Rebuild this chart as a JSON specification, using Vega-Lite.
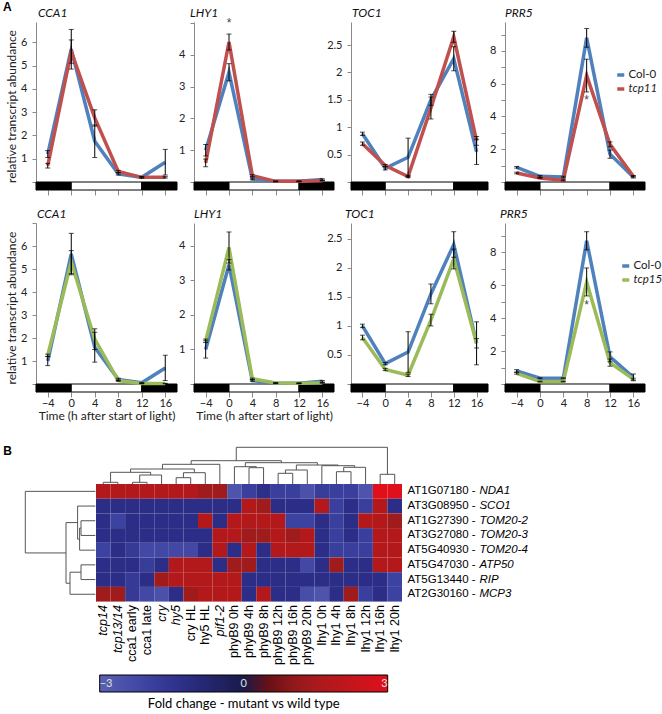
{
"$schema": "https://vega.github.io/schema/vega-lite/v6.json",
"padding": {"left": 2, "top": 0, "right": 0, "bottom": 0},
"background": "white",
"datasets": {
"lines": [
{"r":"A","g":"CCA1","gt":"Col-0","t":-4,"v":1.2,"e":0.15},{"r":"A","g":"CCA1","gt":"Col-0","t":0,"v":5.7,"e":0.85},{"r":"A","g":"CCA1","gt":"Col-0","t":4,"v":1.75,"e":0.7},{"r":"A","g":"CCA1","gt":"Col-0","t":8,"v":0.35,"e":0.05},{"r":"A","g":"CCA1","gt":"Col-0","t":12,"v":0.2,"e":0.03},{"r":"A","g":"CCA1","gt":"Col-0","t":16,"v":0.85,"e":0.55},
{"r":"A","g":"CCA1","gt":"tcp11","t":-4,"v":0.7,"e":0.1},{"r":"A","g":"CCA1","gt":"tcp11","t":0,"v":5.6,"e":0.5},{"r":"A","g":"CCA1","gt":"tcp11","t":4,"v":2.75,"e":0.35},{"r":"A","g":"CCA1","gt":"tcp11","t":8,"v":0.45,"e":0.05},{"r":"A","g":"CCA1","gt":"tcp11","t":12,"v":0.2,"e":0.03},{"r":"A","g":"CCA1","gt":"tcp11","t":16,"v":0.2,"e":0.03},
{"r":"A","g":"LHY1","gt":"Col-0","t":-4,"v":1.0,"e":0.18},{"r":"A","g":"LHY1","gt":"Col-0","t":0,"v":3.45,"e":0.27},{"r":"A","g":"LHY1","gt":"Col-0","t":4,"v":0.1,"e":0.03},{"r":"A","g":"LHY1","gt":"Col-0","t":8,"v":0.02,"e":0.01},{"r":"A","g":"LHY1","gt":"Col-0","t":12,"v":0.02,"e":0.01},{"r":"A","g":"LHY1","gt":"Col-0","t":16,"v":0.08,"e":0.02},
{"r":"A","g":"LHY1","gt":"tcp11","t":-4,"v":0.6,"e":0.12},{"r":"A","g":"LHY1","gt":"tcp11","t":0,"v":4.4,"e":0.25},{"r":"A","g":"LHY1","gt":"tcp11","t":4,"v":0.2,"e":0.03},{"r":"A","g":"LHY1","gt":"tcp11","t":8,"v":0.02,"e":0.01},{"r":"A","g":"LHY1","gt":"tcp11","t":12,"v":0.02,"e":0.01},{"r":"A","g":"LHY1","gt":"tcp11","t":16,"v":0.04,"e":0.01},
{"r":"A","g":"TOC1","gt":"Col-0","t":-4,"v":0.88,"e":0.03},{"r":"A","g":"TOC1","gt":"Col-0","t":0,"v":0.25,"e":0.03},{"r":"A","g":"TOC1","gt":"Col-0","t":4,"v":0.45,"e":0.35},{"r":"A","g":"TOC1","gt":"Col-0","t":8,"v":1.5,"e":0.1},{"r":"A","g":"TOC1","gt":"Col-0","t":12,"v":2.25,"e":0.22},{"r":"A","g":"TOC1","gt":"Col-0","t":16,"v":0.55,"e":0.23},
{"r":"A","g":"TOC1","gt":"tcp11","t":-4,"v":0.7,"e":0.03},{"r":"A","g":"TOC1","gt":"tcp11","t":0,"v":0.3,"e":0.02},{"r":"A","g":"TOC1","gt":"tcp11","t":4,"v":0.1,"e":0.02},{"r":"A","g":"TOC1","gt":"tcp11","t":8,"v":1.35,"e":0.2},{"r":"A","g":"TOC1","gt":"tcp11","t":12,"v":2.65,"e":0.1},{"r":"A","g":"TOC1","gt":"tcp11","t":16,"v":0.75,"e":0.08},
{"r":"A","g":"PRR5","gt":"Col-0","t":-4,"v":0.9,"e":0.05},{"r":"A","g":"PRR5","gt":"Col-0","t":0,"v":0.35,"e":0.05},{"r":"A","g":"PRR5","gt":"Col-0","t":4,"v":0.3,"e":0.05},{"r":"A","g":"PRR5","gt":"Col-0","t":8,"v":8.8,"e":0.57},{"r":"A","g":"PRR5","gt":"Col-0","t":12,"v":1.7,"e":0.25},{"r":"A","g":"PRR5","gt":"Col-0","t":16,"v":0.3,"e":0.05},
{"r":"A","g":"PRR5","gt":"tcp11","t":-4,"v":0.55,"e":0.05},{"r":"A","g":"PRR5","gt":"tcp11","t":0,"v":0.25,"e":0.03},{"r":"A","g":"PRR5","gt":"tcp11","t":4,"v":0.1,"e":0.03},{"r":"A","g":"PRR5","gt":"tcp11","t":8,"v":6.5,"e":1.0},{"r":"A","g":"PRR5","gt":"tcp11","t":12,"v":2.3,"e":0.15},{"r":"A","g":"PRR5","gt":"tcp11","t":16,"v":0.35,"e":0.05},
{"r":"B","g":"CCA1","gt":"Col-0","t":-4,"v":1.0,"e":0.2},{"r":"B","g":"CCA1","gt":"Col-0","t":0,"v":5.65,"e":0.9},{"r":"B","g":"CCA1","gt":"Col-0","t":4,"v":1.6,"e":0.65},{"r":"B","g":"CCA1","gt":"Col-0","t":8,"v":0.2,"e":0.05},{"r":"B","g":"CCA1","gt":"Col-0","t":12,"v":0.05,"e":0.02},{"r":"B","g":"CCA1","gt":"Col-0","t":16,"v":0.7,"e":0.55},
{"r":"B","g":"CCA1","gt":"tcp15","t":-4,"v":1.25,"e":0.05},{"r":"B","g":"CCA1","gt":"tcp15","t":0,"v":5.3,"e":0.5},{"r":"B","g":"CCA1","gt":"tcp15","t":4,"v":1.95,"e":0.45},{"r":"B","g":"CCA1","gt":"tcp15","t":8,"v":0.15,"e":0.03},{"r":"B","g":"CCA1","gt":"tcp15","t":12,"v":0.02,"e":0.01},{"r":"B","g":"CCA1","gt":"tcp15","t":16,"v":0.02,"e":0.01},
{"r":"B","g":"LHY1","gt":"Col-0","t":-4,"v":1.0,"e":0.25},{"r":"B","g":"LHY1","gt":"Col-0","t":0,"v":3.45,"e":0.15},{"r":"B","g":"LHY1","gt":"Col-0","t":4,"v":0.1,"e":0.02},{"r":"B","g":"LHY1","gt":"Col-0","t":8,"v":0.02,"e":0.01},{"r":"B","g":"LHY1","gt":"Col-0","t":12,"v":0.02,"e":0.01},{"r":"B","g":"LHY1","gt":"Col-0","t":16,"v":0.08,"e":0.02},
{"r":"B","g":"LHY1","gt":"tcp15","t":-4,"v":1.25,"e":0.05},{"r":"B","g":"LHY1","gt":"tcp15","t":0,"v":3.95,"e":0.45},{"r":"B","g":"LHY1","gt":"tcp15","t":4,"v":0.15,"e":0.02},{"r":"B","g":"LHY1","gt":"tcp15","t":8,"v":0.03,"e":0.01},{"r":"B","g":"LHY1","gt":"tcp15","t":12,"v":0.02,"e":0.01},{"r":"B","g":"LHY1","gt":"tcp15","t":16,"v":0.03,"e":0.01},
{"r":"B","g":"TOC1","gt":"Col-0","t":-4,"v":1.0,"e":0.03},{"r":"B","g":"TOC1","gt":"Col-0","t":0,"v":0.35,"e":0.02},{"r":"B","g":"TOC1","gt":"Col-0","t":4,"v":0.55,"e":0.35},{"r":"B","g":"TOC1","gt":"Col-0","t":8,"v":1.55,"e":0.17},{"r":"B","g":"TOC1","gt":"Col-0","t":12,"v":2.4,"e":0.22},{"r":"B","g":"TOC1","gt":"Col-0","t":16,"v":0.7,"e":0.37},
{"r":"B","g":"TOC1","gt":"tcp15","t":-4,"v":0.8,"e":0.04},{"r":"B","g":"TOC1","gt":"tcp15","t":0,"v":0.25,"e":0.02},{"r":"B","g":"TOC1","gt":"tcp15","t":4,"v":0.15,"e":0.02},{"r":"B","g":"TOC1","gt":"tcp15","t":8,"v":1.1,"e":0.1},{"r":"B","g":"TOC1","gt":"tcp15","t":12,"v":2.15,"e":0.17},{"r":"B","g":"TOC1","gt":"tcp15","t":16,"v":0.7,"e":0.08},
{"r":"B","g":"PRR5","gt":"Col-0","t":-4,"v":0.8,"e":0.07},{"r":"B","g":"PRR5","gt":"Col-0","t":0,"v":0.35,"e":0.03},{"r":"B","g":"PRR5","gt":"Col-0","t":4,"v":0.35,"e":0.03},{"r":"B","g":"PRR5","gt":"Col-0","t":8,"v":8.7,"e":0.55},{"r":"B","g":"PRR5","gt":"Col-0","t":12,"v":1.65,"e":0.3},{"r":"B","g":"PRR5","gt":"Col-0","t":16,"v":0.4,"e":0.2},
{"r":"B","g":"PRR5","gt":"tcp15","t":-4,"v":0.65,"e":0.05},{"r":"B","g":"PRR5","gt":"tcp15","t":0,"v":0.15,"e":0.02},{"r":"B","g":"PRR5","gt":"tcp15","t":4,"v":0.15,"e":0.02},{"r":"B","g":"PRR5","gt":"tcp15","t":8,"v":6.2,"e":0.85},{"r":"B","g":"PRR5","gt":"tcp15","t":12,"v":1.3,"e":0.22},{"r":"B","g":"PRR5","gt":"tcp15","t":16,"v":0.3,"e":0.05}
],
"stars": [{"r":"A","g":"LHY1","t":0,"v":5.0},{"r":"A","g":"PRR5","t":8,"v":5.0},{"r":"B","g":"PRR5","t":8,"v":4.8}],
"strip": [{"t":-6,"t2":0,"p":"dark"},{"t":0,"t2":12,"p":"light"},{"t":12,"t2":18,"p":"dark"}],
"genes": [{"g":"AT1G07180 -","gn":"NDA1"},{"g":"AT3G08950 -","gn":"SCO1"},{"g":"AT1G27390 -","gn":"TOM20-2"},{"g":"AT3G27080 -","gn":"TOM20-3"},{"g":"AT5G40930 -","gn":"TOM20-4"},{"g":"AT5G47030 -","gn":"ATP50"},{"g":"AT5G13440 -","gn":"RIP"},{"g":"AT2G30160 -","gn":"MCP3"}],
"hm": [
{"g":"AT1G07180 -","s":"tcp14","v":1.8},{"g":"AT1G07180 -","s":"tcp13/14","v":1.8},{"g":"AT1G07180 -","s":"cca1 early","v":1.8},{"g":"AT1G07180 -","s":"cca1 late","v":1.8},{"g":"AT1G07180 -","s":"cry","v":1.8},{"g":"AT1G07180 -","s":"hy5","v":1.8},{"g":"AT1G07180 -","s":"cry HL","v":1.8},{"g":"AT1G07180 -","s":"hy5 HL","v":1.2},{"g":"AT1G07180 -","s":"pif1-2","v":1.2},{"g":"AT1G07180 -","s":"phyB9 0h","v":-2.6},{"g":"AT1G07180 -","s":"phyB9 4h","v":-1.9},{"g":"AT1G07180 -","s":"phyB9 8h","v":-1.3},{"g":"AT1G07180 -","s":"phyB9 12h","v":-1.9},{"g":"AT1G07180 -","s":"phyB9 16h","v":-1.9},{"g":"AT1G07180 -","s":"phyB9 20h","v":-2.5},{"g":"AT1G07180 -","s":"lhy1 0h","v":-1.8},{"g":"AT1G07180 -","s":"lhy1 4h","v":-1.9},{"g":"AT1G07180 -","s":"lhy1 8h","v":-1.9},{"g":"AT1G07180 -","s":"lhy1 12h","v":-2.6},{"g":"AT1G07180 -","s":"lhy1 16h","v":3},{"g":"AT1G07180 -","s":"lhy1 20h","v":3},
{"g":"AT3G08950 -","s":"tcp14","v":-1.2},{"g":"AT3G08950 -","s":"tcp13/14","v":-1.2},{"g":"AT3G08950 -","s":"cca1 early","v":-1.2},{"g":"AT3G08950 -","s":"cca1 late","v":-1.2},{"g":"AT3G08950 -","s":"cry","v":-1.2},{"g":"AT3G08950 -","s":"hy5","v":-1.2},{"g":"AT3G08950 -","s":"cry HL","v":-1.2},{"g":"AT3G08950 -","s":"hy5 HL","v":-1.2},{"g":"AT3G08950 -","s":"pif1-2","v":-1.2},{"g":"AT3G08950 -","s":"phyB9 0h","v":-1.2},{"g":"AT3G08950 -","s":"phyB9 4h","v":1.8},{"g":"AT3G08950 -","s":"phyB9 8h","v":1.2},{"g":"AT3G08950 -","s":"phyB9 12h","v":-1.2},{"g":"AT3G08950 -","s":"phyB9 16h","v":-1.2},{"g":"AT3G08950 -","s":"phyB9 20h","v":-1.2},{"g":"AT3G08950 -","s":"lhy1 0h","v":1.8},{"g":"AT3G08950 -","s":"lhy1 4h","v":-1.9},{"g":"AT3G08950 -","s":"lhy1 8h","v":-1.2},{"g":"AT3G08950 -","s":"lhy1 12h","v":-1.9},{"g":"AT3G08950 -","s":"lhy1 16h","v":1.8},{"g":"AT3G08950 -","s":"lhy1 20h","v":-1.2},
{"g":"AT1G27390 -","s":"tcp14","v":-1.2},{"g":"AT1G27390 -","s":"tcp13/14","v":-2.0},{"g":"AT1G27390 -","s":"cca1 early","v":-1.2},{"g":"AT1G27390 -","s":"cca1 late","v":-1.2},{"g":"AT1G27390 -","s":"cry","v":-1.2},{"g":"AT1G27390 -","s":"hy5","v":-1.2},{"g":"AT1G27390 -","s":"cry HL","v":-1.2},{"g":"AT1G27390 -","s":"hy5 HL","v":1.8},{"g":"AT1G27390 -","s":"pif1-2","v":-1.2},{"g":"AT1G27390 -","s":"phyB9 0h","v":1.8},{"g":"AT1G27390 -","s":"phyB9 4h","v":1.8},{"g":"AT1G27390 -","s":"phyB9 8h","v":1.8},{"g":"AT1G27390 -","s":"phyB9 12h","v":1.8},{"g":"AT1G27390 -","s":"phyB9 16h","v":-2.0},{"g":"AT1G27390 -","s":"phyB9 20h","v":-2.0},{"g":"AT1G27390 -","s":"lhy1 0h","v":-1.2},{"g":"AT1G27390 -","s":"lhy1 4h","v":-1.9},{"g":"AT1G27390 -","s":"lhy1 8h","v":-1.2},{"g":"AT1G27390 -","s":"lhy1 12h","v":1.8},{"g":"AT1G27390 -","s":"lhy1 16h","v":1.8},{"g":"AT1G27390 -","s":"lhy1 20h","v":1.2},
{"g":"AT3G27080 -","s":"tcp14","v":-1.2},{"g":"AT3G27080 -","s":"tcp13/14","v":-1.2},{"g":"AT3G27080 -","s":"cca1 early","v":-1.2},{"g":"AT3G27080 -","s":"cca1 late","v":-1.2},{"g":"AT3G27080 -","s":"cry","v":-1.2},{"g":"AT3G27080 -","s":"hy5","v":-1.2},{"g":"AT3G27080 -","s":"cry HL","v":-1.2},{"g":"AT3G27080 -","s":"hy5 HL","v":-1.2},{"g":"AT3G27080 -","s":"pif1-2","v":1.8},{"g":"AT3G27080 -","s":"phyB9 0h","v":1.8},{"g":"AT3G27080 -","s":"phyB9 4h","v":1.2},{"g":"AT3G27080 -","s":"phyB9 8h","v":1.2},{"g":"AT3G27080 -","s":"phyB9 12h","v":1.8},{"g":"AT3G27080 -","s":"phyB9 16h","v":1.2},{"g":"AT3G27080 -","s":"phyB9 20h","v":1.8},{"g":"AT3G27080 -","s":"lhy1 0h","v":-1.2},{"g":"AT3G27080 -","s":"lhy1 4h","v":-1.9},{"g":"AT3G27080 -","s":"lhy1 8h","v":-1.2},{"g":"AT3G27080 -","s":"lhy1 12h","v":-1.9},{"g":"AT3G27080 -","s":"lhy1 16h","v":1.8},{"g":"AT3G27080 -","s":"lhy1 20h","v":1.8},
{"g":"AT5G40930 -","s":"tcp14","v":-2.0},{"g":"AT5G40930 -","s":"tcp13/14","v":-1.2},{"g":"AT5G40930 -","s":"cca1 early","v":-1.7},{"g":"AT5G40930 -","s":"cca1 late","v":-2.2},{"g":"AT5G40930 -","s":"cry","v":-2.2},{"g":"AT5G40930 -","s":"hy5","v":-2.2},{"g":"AT5G40930 -","s":"cry HL","v":-2.2},{"g":"AT5G40930 -","s":"hy5 HL","v":-1.2},{"g":"AT5G40930 -","s":"pif1-2","v":1.8},{"g":"AT5G40930 -","s":"phyB9 0h","v":-1.2},{"g":"AT5G40930 -","s":"phyB9 4h","v":1.8},{"g":"AT5G40930 -","s":"phyB9 8h","v":-1.2},{"g":"AT5G40930 -","s":"phyB9 12h","v":1.8},{"g":"AT5G40930 -","s":"phyB9 16h","v":1.8},{"g":"AT5G40930 -","s":"phyB9 20h","v":1.8},{"g":"AT5G40930 -","s":"lhy1 0h","v":-1.2},{"g":"AT5G40930 -","s":"lhy1 4h","v":-1.9},{"g":"AT5G40930 -","s":"lhy1 8h","v":-1.9},{"g":"AT5G40930 -","s":"lhy1 12h","v":-1.9},{"g":"AT5G40930 -","s":"lhy1 16h","v":1.8},{"g":"AT5G40930 -","s":"lhy1 20h","v":1.8},
{"g":"AT5G47030 -","s":"tcp14","v":-1.2},{"g":"AT5G47030 -","s":"tcp13/14","v":-1.2},{"g":"AT5G47030 -","s":"cca1 early","v":-1.2},{"g":"AT5G47030 -","s":"cca1 late","v":-1.8},{"g":"AT5G47030 -","s":"cry","v":-1.2},{"g":"AT5G47030 -","s":"hy5","v":1.8},{"g":"AT5G47030 -","s":"cry HL","v":1.8},{"g":"AT5G47030 -","s":"hy5 HL","v":1.8},{"g":"AT5G47030 -","s":"pif1-2","v":-1.2},{"g":"AT5G47030 -","s":"phyB9 0h","v":1.2},{"g":"AT5G47030 -","s":"phyB9 4h","v":1.2},{"g":"AT5G47030 -","s":"phyB9 8h","v":-1.2},{"g":"AT5G47030 -","s":"phyB9 12h","v":-1.2},{"g":"AT5G47030 -","s":"phyB9 16h","v":-1.2},{"g":"AT5G47030 -","s":"phyB9 20h","v":-2.2},{"g":"AT5G47030 -","s":"lhy1 0h","v":-1.2},{"g":"AT5G47030 -","s":"lhy1 4h","v":1.2},{"g":"AT5G47030 -","s":"lhy1 8h","v":-1.2},{"g":"AT5G47030 -","s":"lhy1 12h","v":-1.2},{"g":"AT5G47030 -","s":"lhy1 16h","v":1.8},{"g":"AT5G47030 -","s":"lhy1 20h","v":1.8},
{"g":"AT5G13440 -","s":"tcp14","v":-1.2},{"g":"AT5G13440 -","s":"tcp13/14","v":-1.2},{"g":"AT5G13440 -","s":"cca1 early","v":-1.7},{"g":"AT5G13440 -","s":"cca1 late","v":-1.2},{"g":"AT5G13440 -","s":"cry","v":1.2},{"g":"AT5G13440 -","s":"hy5","v":1.8},{"g":"AT5G13440 -","s":"cry HL","v":1.8},{"g":"AT5G13440 -","s":"hy5 HL","v":1.8},{"g":"AT5G13440 -","s":"pif1-2","v":1.8},{"g":"AT5G13440 -","s":"phyB9 0h","v":1.8},{"g":"AT5G13440 -","s":"phyB9 4h","v":-1.2},{"g":"AT5G13440 -","s":"phyB9 8h","v":-1.2},{"g":"AT5G13440 -","s":"phyB9 12h","v":-1.2},{"g":"AT5G13440 -","s":"phyB9 16h","v":-1.2},{"g":"AT5G13440 -","s":"phyB9 20h","v":-1.2},{"g":"AT5G13440 -","s":"lhy1 0h","v":-1.2},{"g":"AT5G13440 -","s":"lhy1 4h","v":-1.2},{"g":"AT5G13440 -","s":"lhy1 8h","v":-1.2},{"g":"AT5G13440 -","s":"lhy1 12h","v":-1.2},{"g":"AT5G13440 -","s":"lhy1 16h","v":-1.2},{"g":"AT5G13440 -","s":"lhy1 20h","v":-2.0},
{"g":"AT2G30160 -","s":"tcp14","v":1.2},{"g":"AT2G30160 -","s":"tcp13/14","v":1.2},{"g":"AT2G30160 -","s":"cca1 early","v":-1.7},{"g":"AT2G30160 -","s":"cca1 late","v":-2.2},{"g":"AT2G30160 -","s":"cry","v":-2.5},{"g":"AT2G30160 -","s":"hy5","v":-1.2},{"g":"AT2G30160 -","s":"cry HL","v":1.2},{"g":"AT2G30160 -","s":"hy5 HL","v":1.8},{"g":"AT2G30160 -","s":"pif1-2","v":1.8},{"g":"AT2G30160 -","s":"phyB9 0h","v":1.8},{"g":"AT2G30160 -","s":"phyB9 4h","v":-1.2},{"g":"AT2G30160 -","s":"phyB9 8h","v":1.8},{"g":"AT2G30160 -","s":"phyB9 12h","v":-1.2},{"g":"AT2G30160 -","s":"phyB9 16h","v":-1.2},{"g":"AT2G30160 -","s":"phyB9 20h","v":-2.4},{"g":"AT2G30160 -","s":"lhy1 0h","v":-2.6},{"g":"AT2G30160 -","s":"lhy1 4h","v":-1.2},{"g":"AT2G30160 -","s":"lhy1 8h","v":1.2},{"g":"AT2G30160 -","s":"lhy1 12h","v":-1.9},{"g":"AT2G30160 -","s":"lhy1 16h","v":-1.2},{"g":"AT2G30160 -","s":"lhy1 20h","v":-2.0}
],
"td": [
{"xl":0.5,"xr":1.5,"hl":0,"hr":0,"h":1.7},{"xl":2.5,"xr":3.5,"hl":0,"hr":0,"h":1.7},{"xl":3.0,"xr":4.5,"hl":1.7,"hr":0,"h":9},{"xl":1.0,"xr":3.75,"hl":1.7,"hr":9,"h":11.7},
{"xl":5.5,"xr":6.5,"hl":0,"hr":0,"h":6.3},{"xl":6.0,"xr":7.5,"hl":6.3,"hr":0,"h":11.3},{"xl":2.375,"xr":6.75,"hl":11.7,"hr":11.3,"h":15},{"xl":4.5625,"xr":8.5,"hl":15,"hr":0,"h":19.7},
{"xl":10.5,"xr":11.5,"hl":0,"hr":0,"h":16.3},{"xl":9.5,"xr":11.0,"hl":0,"hr":16.3,"h":17.3},{"xl":12.5,"xr":13.5,"hl":0,"hr":0,"h":10.7},{"xl":13.0,"xr":14.5,"hl":10.7,"hr":0,"h":14},
{"xl":16.5,"xr":17.5,"hl":0,"hr":0,"h":12.3},{"xl":17.0,"xr":18.5,"hl":12.3,"hr":0,"h":16.7},{"xl":15.5,"xr":17.75,"hl":0,"hr":16.7,"h":18.3},{"xl":13.75,"xr":16.625,"hl":14,"hr":18.3,"h":19},
{"xl":10.25,"xr":15.19,"hl":17.3,"hr":19,"h":21.3},{"xl":6.53,"xr":12.72,"hl":19.7,"hr":21.3,"h":23.3},{"xl":19.5,"xr":20.5,"hl":0,"hr":0,"h":9.7},{"xl":9.625,"xr":20.0,"hl":23.3,"hr":9.7,"h":36.7}
],
"ld": [
{"a":2.5,"b":3.5,"da":0,"db":0,"d":14.3},{"a":3.0,"b":4.5,"da":14.3,"db":0,"d":15.7},{"a":1.5,"b":3.75,"da":0,"db":15.7,"d":17.7},
{"a":5.5,"b":6.5,"da":0,"db":0,"d":14.3},{"a":6.0,"b":7.5,"da":14.3,"db":0,"d":25.3},{"a":2.625,"b":6.75,"da":17.7,"db":25.3,"d":29.3},{"a":0.5,"b":4.69,"da":0,"db":29.3,"d":70}
]
},
"spacing": 24,
"resolve": {"scale": {"stroke": "independent", "color": "independent", "fill": "independent"}, "legend": {"stroke": "independent", "color": "independent", "fill": "independent"}},
"vconcat": [
{
"columns": 4, "spacing": {"row": 33, "column": 17}, "bounds": "flush", "align": "each",
"resolve": {"scale": {"stroke": "independent", "color": "independent", "fill": "independent"}, "legend": {"stroke": "independent", "color": "independent", "fill": "independent"}},
"concat": [
{"width": 141, "height": 168,
 "layer": [
  {"data": {"name": "strip"}, "mark": {"type": "rect", "stroke": "black", "strokeWidth": 1}, "encoding": {
   "x": {"field": "t", "type": "quantitative", "title": null, "scale": {"domain": [-6, 18], "nice": false, "zero": false}, "axis": {"values": [-4,0,4,8,12,16], "labels": false, "domain": false, "tickSize": 5}}, "x2": {"field": "t2"},
   "y": {"datum": -0.3435, "type": "quantitative", "title": "relative transcript abundance", "scale": {"domain": [-0.3435, 6.87], "nice": false, "zero": false}, "axis": {"values": [0,1,2,3,4,5,6], "labelExpr": "datum.value == 0 ? '' : datum.label", "format": "~g"}}, "y2": {"datum": 0},
   "fill": {"field": "p", "type": "nominal", "scale": {"domain": ["dark", "light"], "range": ["black", "white"]}, "legend": null}}},
  {"data": {"name": "lines"}, "transform": [{"filter": "datum.r == 'A' && datum.g == 'CCA1'"}], "mark": {"type": "line", "strokeWidth": 3.5}, "encoding": {
   "x": {"field": "t", "type": "quantitative", "title": null, "scale": {"domain": [-6, 18], "nice": false, "zero": false}, "axis": {"values": [-4,0,4,8,12,16], "labels": false, "domain": false, "tickSize": 5}},
   "y": {"field": "v", "type": "quantitative", "title": "relative transcript abundance", "scale": {"domain": [-0.3435, 6.87], "nice": false, "zero": false}, "axis": {"values": [0,1,2,3,4,5,6], "labelExpr": "datum.value == 0 ? '' : datum.label", "format": "~g"}},
   "stroke": {"field": "gt", "type": "nominal", "scale": {"domain": ["Col-0", "tcp11"], "range": ["#4F81BD", "#C0504D"]}, "legend": null}}},
  {"data": {"name": "lines"}, "transform": [{"filter": "datum.r == 'A' && datum.g == 'CCA1'"}], "mark": {"type": "errorbar", "ticks": {"size": 5}, "color": "black", "thickness": 1}, "encoding": {
   "x": {"field": "t", "type": "quantitative", "title": null, "scale": {"domain": [-6, 18], "nice": false, "zero": false}, "axis": {"values": [-4,0,4,8,12,16], "labels": false, "domain": false, "tickSize": 5}},
   "y": {"field": "v", "type": "quantitative", "title": "relative transcript abundance", "scale": {"domain": [-0.3435, 6.87], "nice": false, "zero": false}, "axis": {"values": [0,1,2,3,4,5,6], "labelExpr": "datum.value == 0 ? '' : datum.label", "format": "~g"}},
   "yError": {"field": "e"}}},
  {"data": {"values": [{}]}, "mark": {"type": "text", "text": "CCA1", "font": "Lato", "fontSize": 12, "fontStyle": "italic", "color": "#111", "align": "left", "baseline": "alphabetic", "dx": 2, "dy": -5}, "encoding": {
   "x": {"datum": -6, "type": "quantitative", "title": null, "scale": {"domain": [-6, 18], "nice": false, "zero": false}, "axis": {"values": [-4,0,4,8,12,16], "labels": false, "domain": false, "tickSize": 5}},
   "y": {"datum": 6.87, "type": "quantitative", "title": "relative transcript abundance", "scale": {"domain": [-0.3435, 6.87], "nice": false, "zero": false}, "axis": {"values": [0,1,2,3,4,5,6], "labelExpr": "datum.value == 0 ? '' : datum.label", "format": "~g"}}}},
  {"data": {"values": [{}]}, "mark": {"type": "text", "text": "A", "font": "Liberation Sans", "fontWeight": "bold", "fontSize": 12, "color": "black", "align": "center", "baseline": "middle"}, "encoding": {
   "x": {"datum": -10.9, "type": "quantitative", "title": null, "scale": {"domain": [-6, 18], "nice": false, "zero": false}, "axis": {"values": [-4,0,4,8,12,16], "labels": false, "domain": false, "tickSize": 5}},
   "y": {"datum": 7.53, "type": "quantitative", "title": "relative transcript abundance", "scale": {"domain": [-0.3435, 6.87], "nice": false, "zero": false}, "axis": {"values": [0,1,2,3,4,5,6], "labelExpr": "datum.value == 0 ? '' : datum.label", "format": "~g"}}}}
 ]},
{"width": 140, "height": 168,
 "layer": [
  {"data": {"name": "strip"}, "mark": {"type": "rect", "stroke": "black", "strokeWidth": 1}, "encoding": {
   "x": {"field": "t", "type": "quantitative", "title": null, "scale": {"domain": [-6, 18], "nice": false, "zero": false}, "axis": {"values": [-4,0,4,8,12,16], "labels": false, "domain": false, "tickSize": 5}}, "x2": {"field": "t2"},
   "y": {"datum": -0.2515, "type": "quantitative", "title": null, "scale": {"domain": [-0.2515, 5.03], "nice": false, "zero": false}, "axis": {"values": [0,1,2,3,4,5], "labelExpr": "datum.value == 0 || datum.value == 5 ? '' : datum.label", "format": "~g"}}, "y2": {"datum": 0},
   "fill": {"field": "p", "type": "nominal", "scale": {"domain": ["dark", "light"], "range": ["black", "white"]}, "legend": null}}},
  {"data": {"name": "lines"}, "transform": [{"filter": "datum.r == 'A' && datum.g == 'LHY1'"}], "mark": {"type": "line", "strokeWidth": 3.5}, "encoding": {
   "x": {"field": "t", "type": "quantitative", "title": null, "scale": {"domain": [-6, 18], "nice": false, "zero": false}, "axis": {"values": [-4,0,4,8,12,16], "labels": false, "domain": false, "tickSize": 5}},
   "y": {"field": "v", "type": "quantitative", "title": null, "scale": {"domain": [-0.2515, 5.03], "nice": false, "zero": false}, "axis": {"values": [0,1,2,3,4,5], "labelExpr": "datum.value == 0 || datum.value == 5 ? '' : datum.label", "format": "~g"}},
   "stroke": {"field": "gt", "type": "nominal", "scale": {"domain": ["Col-0", "tcp11"], "range": ["#4F81BD", "#C0504D"]}, "legend": null}}},
  {"data": {"name": "lines"}, "transform": [{"filter": "datum.r == 'A' && datum.g == 'LHY1'"}], "mark": {"type": "errorbar", "ticks": {"size": 5}, "color": "black", "thickness": 1}, "encoding": {
   "x": {"field": "t", "type": "quantitative", "title": null, "scale": {"domain": [-6, 18], "nice": false, "zero": false}, "axis": {"values": [-4,0,4,8,12,16], "labels": false, "domain": false, "tickSize": 5}},
   "y": {"field": "v", "type": "quantitative", "title": null, "scale": {"domain": [-0.2515, 5.03], "nice": false, "zero": false}, "axis": {"values": [0,1,2,3,4,5], "labelExpr": "datum.value == 0 || datum.value == 5 ? '' : datum.label", "format": "~g"}},
   "yError": {"field": "e"}}},
  {"data": {"name": "stars"}, "transform": [{"filter": "datum.r == 'A' && datum.g == 'LHY1'"}], "mark": {"type": "text", "text": "*", "fontSize": 12, "color": "#444", "baseline": "middle"}, "encoding": {
   "x": {"field": "t", "type": "quantitative", "title": null, "scale": {"domain": [-6, 18], "nice": false, "zero": false}, "axis": {"values": [-4,0,4,8,12,16], "labels": false, "domain": false, "tickSize": 5}},
   "y": {"field": "v", "type": "quantitative", "title": null, "scale": {"domain": [-0.2515, 5.03], "nice": false, "zero": false}, "axis": {"values": [0,1,2,3,4,5], "labelExpr": "datum.value == 0 || datum.value == 5 ? '' : datum.label", "format": "~g"}}}},
  {"data": {"values": [{}]}, "mark": {"type": "text", "text": "LHY1", "font": "Lato", "fontSize": 12, "fontStyle": "italic", "color": "#111", "align": "left", "baseline": "alphabetic", "dx": -4, "dy": -5}, "encoding": {
   "x": {"datum": -6, "type": "quantitative", "title": null, "scale": {"domain": [-6, 18], "nice": false, "zero": false}, "axis": {"values": [-4,0,4,8,12,16], "labels": false, "domain": false, "tickSize": 5}},
   "y": {"datum": 5.03, "type": "quantitative", "title": null, "scale": {"domain": [-0.2515, 5.03], "nice": false, "zero": false}, "axis": {"values": [0,1,2,3,4,5], "labelExpr": "datum.value == 0 || datum.value == 5 ? '' : datum.label", "format": "~g"}}}}
 ]},
{"width": 137, "height": 168,
 "layer": [
  {"data": {"name": "strip"}, "mark": {"type": "rect", "stroke": "black", "strokeWidth": 1}, "encoding": {
   "x": {"field": "t", "type": "quantitative", "title": null, "scale": {"domain": [-6, 18], "nice": false, "zero": false}, "axis": {"values": [-4,0,4,8,12,16], "labels": false, "domain": false, "tickSize": 5}}, "x2": {"field": "t2"},
   "y": {"datum": -0.146, "type": "quantitative", "title": null, "scale": {"domain": [-0.146, 2.92], "nice": false, "zero": false}, "axis": {"values": [0,0.5,1,1.5,2,2.5], "labelExpr": "datum.value == 0 ? '' : datum.label", "format": "~g"}}, "y2": {"datum": 0},
   "fill": {"field": "p", "type": "nominal", "scale": {"domain": ["dark", "light"], "range": ["black", "white"]}, "legend": null}}},
  {"data": {"name": "lines"}, "transform": [{"filter": "datum.r == 'A' && datum.g == 'TOC1'"}], "mark": {"type": "line", "strokeWidth": 3.5}, "encoding": {
   "x": {"field": "t", "type": "quantitative", "title": null, "scale": {"domain": [-6, 18], "nice": false, "zero": false}, "axis": {"values": [-4,0,4,8,12,16], "labels": false, "domain": false, "tickSize": 5}},
   "y": {"field": "v", "type": "quantitative", "title": null, "scale": {"domain": [-0.146, 2.92], "nice": false, "zero": false}, "axis": {"values": [0,0.5,1,1.5,2,2.5], "labelExpr": "datum.value == 0 ? '' : datum.label", "format": "~g"}},
   "stroke": {"field": "gt", "type": "nominal", "scale": {"domain": ["Col-0", "tcp11"], "range": ["#4F81BD", "#C0504D"]}, "legend": null}}},
  {"data": {"name": "lines"}, "transform": [{"filter": "datum.r == 'A' && datum.g == 'TOC1'"}], "mark": {"type": "errorbar", "ticks": {"size": 5}, "color": "black", "thickness": 1}, "encoding": {
   "x": {"field": "t", "type": "quantitative", "title": null, "scale": {"domain": [-6, 18], "nice": false, "zero": false}, "axis": {"values": [-4,0,4,8,12,16], "labels": false, "domain": false, "tickSize": 5}},
   "y": {"field": "v", "type": "quantitative", "title": null, "scale": {"domain": [-0.146, 2.92], "nice": false, "zero": false}, "axis": {"values": [0,0.5,1,1.5,2,2.5], "labelExpr": "datum.value == 0 ? '' : datum.label", "format": "~g"}},
   "yError": {"field": "e"}}},
  {"data": {"values": [{}]}, "mark": {"type": "text", "text": "TOC1", "font": "Lato", "fontSize": 12, "fontStyle": "italic", "color": "#111", "align": "left", "baseline": "alphabetic", "dx": 1, "dy": -5}, "encoding": {
   "x": {"datum": -6, "type": "quantitative", "title": null, "scale": {"domain": [-6, 18], "nice": false, "zero": false}, "axis": {"values": [-4,0,4,8,12,16], "labels": false, "domain": false, "tickSize": 5}},
   "y": {"datum": 2.92, "type": "quantitative", "title": null, "scale": {"domain": [-0.146, 2.92], "nice": false, "zero": false}, "axis": {"values": [0,0.5,1,1.5,2,2.5], "labelExpr": "datum.value == 0 ? '' : datum.label", "format": "~g"}}}}
 ]},
{"width": 140, "height": 168,
 "layer": [
  {"data": {"name": "strip"}, "mark": {"type": "rect", "stroke": "black", "strokeWidth": 1}, "encoding": {
   "x": {"field": "t", "type": "quantitative", "title": null, "scale": {"domain": [-6, 18], "nice": false, "zero": false}, "axis": {"values": [-4,0,4,8,12,16], "labels": false, "domain": false, "tickSize": 5}}, "x2": {"field": "t2"},
   "y": {"datum": -0.4885, "type": "quantitative", "title": null, "scale": {"domain": [-0.4885, 9.77], "nice": false, "zero": false}, "axis": {"values": [0,1,2,3,4,5,6,7,8,9], "labelExpr": "datum.value > 0 && datum.value % 2 == 0 ? datum.label : ''", "format": "~g"}}, "y2": {"datum": 0},
   "fill": {"field": "p", "type": "nominal", "scale": {"domain": ["dark", "light"], "range": ["black", "white"]}, "legend": null}}},
  {"data": {"name": "lines"}, "transform": [{"filter": "datum.r == 'A' && datum.g == 'PRR5'"}], "mark": {"type": "line", "strokeWidth": 3.5}, "encoding": {
   "x": {"field": "t", "type": "quantitative", "title": null, "scale": {"domain": [-6, 18], "nice": false, "zero": false}, "axis": {"values": [-4,0,4,8,12,16], "labels": false, "domain": false, "tickSize": 5}},
   "y": {"field": "v", "type": "quantitative", "title": null, "scale": {"domain": [-0.4885, 9.77], "nice": false, "zero": false}, "axis": {"values": [0,1,2,3,4,5,6,7,8,9], "labelExpr": "datum.value > 0 && datum.value % 2 == 0 ? datum.label : ''", "format": "~g"}},
   "stroke": {"field": "gt", "type": "nominal", "scale": {"domain": ["Col-0", "tcp11"], "range": ["#4F81BD", "#C0504D"]},
    "legend": {"orient": "none", "legendX": 110, "legendY": 47, "title": null, "symbolType": "stroke", "symbolStrokeWidth": 3.5, "symbolSize": 49, "clipHeight": 12, "rowPadding": 2, "labelOffset": 2, "labelFont": "Lato", "labelFontSize": 11.5, "labelColor": "#222",
     "encode": {"labels": {"update": {"fontStyle": {"signal": "datum.value == 'Col-0' ? 'normal' : 'italic'"}}}}}}}},
  {"data": {"name": "lines"}, "transform": [{"filter": "datum.r == 'A' && datum.g == 'PRR5'"}], "mark": {"type": "errorbar", "ticks": {"size": 5}, "color": "black", "thickness": 1}, "encoding": {
   "x": {"field": "t", "type": "quantitative", "title": null, "scale": {"domain": [-6, 18], "nice": false, "zero": false}, "axis": {"values": [-4,0,4,8,12,16], "labels": false, "domain": false, "tickSize": 5}},
   "y": {"field": "v", "type": "quantitative", "title": null, "scale": {"domain": [-0.4885, 9.77], "nice": false, "zero": false}, "axis": {"values": [0,1,2,3,4,5,6,7,8,9], "labelExpr": "datum.value > 0 && datum.value % 2 == 0 ? datum.label : ''", "format": "~g"}},
   "yError": {"field": "e"}}},
  {"data": {"name": "stars"}, "transform": [{"filter": "datum.r == 'A' && datum.g == 'PRR5'"}], "mark": {"type": "text", "text": "*", "fontSize": 12, "color": "#444", "baseline": "middle"}, "encoding": {
   "x": {"field": "t", "type": "quantitative", "title": null, "scale": {"domain": [-6, 18], "nice": false, "zero": false}, "axis": {"values": [-4,0,4,8,12,16], "labels": false, "domain": false, "tickSize": 5}},
   "y": {"field": "v", "type": "quantitative", "title": null, "scale": {"domain": [-0.4885, 9.77], "nice": false, "zero": false}, "axis": {"values": [0,1,2,3,4,5,6,7,8,9], "labelExpr": "datum.value > 0 && datum.value % 2 == 0 ? datum.label : ''", "format": "~g"}}}},
  {"data": {"values": [{}]}, "mark": {"type": "text", "text": "PRR5", "font": "Lato", "fontSize": 12, "fontStyle": "italic", "color": "#111", "align": "left", "baseline": "alphabetic", "dx": 0, "dy": -5}, "encoding": {
   "x": {"datum": -6, "type": "quantitative", "title": null, "scale": {"domain": [-6, 18], "nice": false, "zero": false}, "axis": {"values": [-4,0,4,8,12,16], "labels": false, "domain": false, "tickSize": 5}},
   "y": {"datum": 9.77, "type": "quantitative", "title": null, "scale": {"domain": [-0.4885, 9.77], "nice": false, "zero": false}, "axis": {"values": [0,1,2,3,4,5,6,7,8,9], "labelExpr": "datum.value > 0 && datum.value % 2 == 0 ? datum.label : ''", "format": "~g"}}}}
 ]},
{"width": 141, "height": 169,
 "layer": [
  {"data": {"name": "strip"}, "mark": {"type": "rect", "stroke": "black", "strokeWidth": 1}, "encoding": {
   "x": {"field": "t", "type": "quantitative", "title": "Time (h after start of light)", "scale": {"domain": [-6, 18], "nice": false, "zero": false}, "axis": {"values": [-4,0,4,8,12,16], "domain": false, "tickSize": 5, "labelPadding": 0, "titlePadding": 2}}, "x2": {"field": "t2"},
   "y": {"datum": -0.3478, "type": "quantitative", "title": "relative transcript abundance", "scale": {"domain": [-0.3478, 7.0], "nice": false, "zero": false}, "axis": {"values": [0,1,2,3,4,5,6,7], "labelExpr": "datum.value == 0 || datum.value == 7 ? '' : datum.label", "format": "~g"}}, "y2": {"datum": 0},
   "fill": {"field": "p", "type": "nominal", "scale": {"domain": ["dark", "light"], "range": ["black", "white"]}, "legend": null}}},
  {"data": {"name": "lines"}, "transform": [{"filter": "datum.r == 'B' && datum.g == 'CCA1'"}], "mark": {"type": "line", "strokeWidth": 3.5}, "encoding": {
   "x": {"field": "t", "type": "quantitative", "title": "Time (h after start of light)", "scale": {"domain": [-6, 18], "nice": false, "zero": false}, "axis": {"values": [-4,0,4,8,12,16], "domain": false, "tickSize": 5, "labelPadding": 0, "titlePadding": 2}},
   "y": {"field": "v", "type": "quantitative", "title": "relative transcript abundance", "scale": {"domain": [-0.3478, 7.0], "nice": false, "zero": false}, "axis": {"values": [0,1,2,3,4,5,6,7], "labelExpr": "datum.value == 0 || datum.value == 7 ? '' : datum.label", "format": "~g"}},
   "stroke": {"field": "gt", "type": "nominal", "scale": {"domain": ["Col-0", "tcp15"], "range": ["#4F81BD", "#9BBB59"]}, "legend": null}}},
  {"data": {"name": "lines"}, "transform": [{"filter": "datum.r == 'B' && datum.g == 'CCA1'"}], "mark": {"type": "errorbar", "ticks": {"size": 5}, "color": "black", "thickness": 1}, "encoding": {
   "x": {"field": "t", "type": "quantitative", "title": "Time (h after start of light)", "scale": {"domain": [-6, 18], "nice": false, "zero": false}, "axis": {"values": [-4,0,4,8,12,16], "domain": false, "tickSize": 5, "labelPadding": 0, "titlePadding": 2}},
   "y": {"field": "v", "type": "quantitative", "title": "relative transcript abundance", "scale": {"domain": [-0.3478, 7.0], "nice": false, "zero": false}, "axis": {"values": [0,1,2,3,4,5,6,7], "labelExpr": "datum.value == 0 || datum.value == 7 ? '' : datum.label", "format": "~g"}},
   "yError": {"field": "e"}}},
  {"data": {"values": [{}]}, "mark": {"type": "text", "text": "CCA1", "font": "Lato", "fontSize": 12, "fontStyle": "italic", "color": "#111", "align": "left", "baseline": "alphabetic", "dx": 1, "dy": -5}, "encoding": {
   "x": {"datum": -6, "type": "quantitative", "title": "Time (h after start of light)", "scale": {"domain": [-6, 18], "nice": false, "zero": false}, "axis": {"values": [-4,0,4,8,12,16], "domain": false, "tickSize": 5, "labelPadding": 0, "titlePadding": 2}},
   "y": {"datum": 7.0, "type": "quantitative", "title": "relative transcript abundance", "scale": {"domain": [-0.3478, 7.0], "nice": false, "zero": false}, "axis": {"values": [0,1,2,3,4,5,6,7], "labelExpr": "datum.value == 0 || datum.value == 7 ? '' : datum.label", "format": "~g"}}}}
 ]},
{"width": 140, "height": 169,
 "layer": [
  {"data": {"name": "strip"}, "mark": {"type": "rect", "stroke": "black", "strokeWidth": 1}, "encoding": {
   "x": {"field": "t", "type": "quantitative", "title": "Time (h after start of light)", "scale": {"domain": [-6, 18], "nice": false, "zero": false}, "axis": {"values": [-4,0,4,8,12,16], "domain": false, "tickSize": 5, "labelPadding": 0, "titlePadding": 2}}, "x2": {"field": "t2"},
   "y": {"datum": -0.2316, "type": "quantitative", "title": null, "scale": {"domain": [-0.2316, 4.66], "nice": false, "zero": false}, "axis": {"values": [0,1,2,3,4], "labelExpr": "datum.value == 0 ? '' : datum.label", "format": "~g"}}, "y2": {"datum": 0},
   "fill": {"field": "p", "type": "nominal", "scale": {"domain": ["dark", "light"], "range": ["black", "white"]}, "legend": null}}},
  {"data": {"name": "lines"}, "transform": [{"filter": "datum.r == 'B' && datum.g == 'LHY1'"}], "mark": {"type": "line", "strokeWidth": 3.5}, "encoding": {
   "x": {"field": "t", "type": "quantitative", "title": "Time (h after start of light)", "scale": {"domain": [-6, 18], "nice": false, "zero": false}, "axis": {"values": [-4,0,4,8,12,16], "domain": false, "tickSize": 5, "labelPadding": 0, "titlePadding": 2}},
   "y": {"field": "v", "type": "quantitative", "title": null, "scale": {"domain": [-0.2316, 4.66], "nice": false, "zero": false}, "axis": {"values": [0,1,2,3,4], "labelExpr": "datum.value == 0 ? '' : datum.label", "format": "~g"}},
   "stroke": {"field": "gt", "type": "nominal", "scale": {"domain": ["Col-0", "tcp15"], "range": ["#4F81BD", "#9BBB59"]}, "legend": null}}},
  {"data": {"name": "lines"}, "transform": [{"filter": "datum.r == 'B' && datum.g == 'LHY1'"}], "mark": {"type": "errorbar", "ticks": {"size": 5}, "color": "black", "thickness": 1}, "encoding": {
   "x": {"field": "t", "type": "quantitative", "title": "Time (h after start of light)", "scale": {"domain": [-6, 18], "nice": false, "zero": false}, "axis": {"values": [-4,0,4,8,12,16], "domain": false, "tickSize": 5, "labelPadding": 0, "titlePadding": 2}},
   "y": {"field": "v", "type": "quantitative", "title": null, "scale": {"domain": [-0.2316, 4.66], "nice": false, "zero": false}, "axis": {"values": [0,1,2,3,4], "labelExpr": "datum.value == 0 ? '' : datum.label", "format": "~g"}},
   "yError": {"field": "e"}}},
  {"data": {"values": [{}]}, "mark": {"type": "text", "text": "LHY1", "font": "Lato", "fontSize": 12, "fontStyle": "italic", "color": "#111", "align": "left", "baseline": "alphabetic", "dx": 0, "dy": -5}, "encoding": {
   "x": {"datum": -6, "type": "quantitative", "title": "Time (h after start of light)", "scale": {"domain": [-6, 18], "nice": false, "zero": false}, "axis": {"values": [-4,0,4,8,12,16], "domain": false, "tickSize": 5, "labelPadding": 0, "titlePadding": 2}},
   "y": {"datum": 4.66, "type": "quantitative", "title": null, "scale": {"domain": [-0.2316, 4.66], "nice": false, "zero": false}, "axis": {"values": [0,1,2,3,4], "labelExpr": "datum.value == 0 ? '' : datum.label", "format": "~g"}}}}
 ]},
{"width": 137, "height": 169,
 "layer": [
  {"data": {"name": "strip"}, "mark": {"type": "rect", "stroke": "black", "strokeWidth": 1}, "encoding": {
   "x": {"field": "t", "type": "quantitative", "title": null, "scale": {"domain": [-6, 18], "nice": false, "zero": false}, "axis": {"values": [-4,0,4,8,12,16], "domain": false, "tickSize": 5, "labelPadding": 0}}, "x2": {"field": "t2"},
   "y": {"datum": -0.1376, "type": "quantitative", "title": null, "scale": {"domain": [-0.1376, 2.77], "nice": false, "zero": false}, "axis": {"values": [0,0.5,1,1.5,2,2.5], "labelExpr": "datum.value == 0 ? '' : datum.label", "format": "~g"}}, "y2": {"datum": 0},
   "fill": {"field": "p", "type": "nominal", "scale": {"domain": ["dark", "light"], "range": ["black", "white"]}, "legend": null}}},
  {"data": {"name": "lines"}, "transform": [{"filter": "datum.r == 'B' && datum.g == 'TOC1'"}], "mark": {"type": "line", "strokeWidth": 3.5}, "encoding": {
   "x": {"field": "t", "type": "quantitative", "title": null, "scale": {"domain": [-6, 18], "nice": false, "zero": false}, "axis": {"values": [-4,0,4,8,12,16], "domain": false, "tickSize": 5, "labelPadding": 0}},
   "y": {"field": "v", "type": "quantitative", "title": null, "scale": {"domain": [-0.1376, 2.77], "nice": false, "zero": false}, "axis": {"values": [0,0.5,1,1.5,2,2.5], "labelExpr": "datum.value == 0 ? '' : datum.label", "format": "~g"}},
   "stroke": {"field": "gt", "type": "nominal", "scale": {"domain": ["Col-0", "tcp15"], "range": ["#4F81BD", "#9BBB59"]}, "legend": null}}},
  {"data": {"name": "lines"}, "transform": [{"filter": "datum.r == 'B' && datum.g == 'TOC1'"}], "mark": {"type": "errorbar", "ticks": {"size": 5}, "color": "black", "thickness": 1}, "encoding": {
   "x": {"field": "t", "type": "quantitative", "title": null, "scale": {"domain": [-6, 18], "nice": false, "zero": false}, "axis": {"values": [-4,0,4,8,12,16], "domain": false, "tickSize": 5, "labelPadding": 0}},
   "y": {"field": "v", "type": "quantitative", "title": null, "scale": {"domain": [-0.1376, 2.77], "nice": false, "zero": false}, "axis": {"values": [0,0.5,1,1.5,2,2.5], "labelExpr": "datum.value == 0 ? '' : datum.label", "format": "~g"}},
   "yError": {"field": "e"}}},
  {"data": {"values": [{}]}, "mark": {"type": "text", "text": "TOC1", "font": "Lato", "fontSize": 12, "fontStyle": "italic", "color": "#111", "align": "left", "baseline": "alphabetic", "dx": -6, "dy": -5}, "encoding": {
   "x": {"datum": -6, "type": "quantitative", "title": null, "scale": {"domain": [-6, 18], "nice": false, "zero": false}, "axis": {"values": [-4,0,4,8,12,16], "domain": false, "tickSize": 5, "labelPadding": 0}},
   "y": {"datum": 2.77, "type": "quantitative", "title": null, "scale": {"domain": [-0.1376, 2.77], "nice": false, "zero": false}, "axis": {"values": [0,0.5,1,1.5,2,2.5], "labelExpr": "datum.value == 0 ? '' : datum.label", "format": "~g"}}}}
 ]},
{"width": 140, "height": 169,
 "layer": [
  {"data": {"name": "strip"}, "mark": {"type": "rect", "stroke": "black", "strokeWidth": 1}, "encoding": {
   "x": {"field": "t", "type": "quantitative", "title": null, "scale": {"domain": [-6, 18], "nice": false, "zero": false}, "axis": {"values": [-4,0,4,8,12,16], "domain": false, "tickSize": 5, "labelPadding": 0}}, "x2": {"field": "t2"},
   "y": {"datum": -0.486, "type": "quantitative", "title": null, "scale": {"domain": [-0.486, 9.78], "nice": false, "zero": false}, "axis": {"values": [0,1,2,3,4,5,6,7,8,9], "labelExpr": "datum.value > 0 && datum.value % 2 == 0 ? datum.label : ''", "format": "~g"}}, "y2": {"datum": 0},
   "fill": {"field": "p", "type": "nominal", "scale": {"domain": ["dark", "light"], "range": ["black", "white"]}, "legend": null}}},
  {"data": {"name": "lines"}, "transform": [{"filter": "datum.r == 'B' && datum.g == 'PRR5'"}], "mark": {"type": "line", "strokeWidth": 3.5}, "encoding": {
   "x": {"field": "t", "type": "quantitative", "title": null, "scale": {"domain": [-6, 18], "nice": false, "zero": false}, "axis": {"values": [-4,0,4,8,12,16], "domain": false, "tickSize": 5, "labelPadding": 0}},
   "y": {"field": "v", "type": "quantitative", "title": null, "scale": {"domain": [-0.486, 9.78], "nice": false, "zero": false}, "axis": {"values": [0,1,2,3,4,5,6,7,8,9], "labelExpr": "datum.value > 0 && datum.value % 2 == 0 ? datum.label : ''", "format": "~g"}},
   "stroke": {"field": "gt", "type": "nominal", "scale": {"domain": ["Col-0", "tcp15"], "range": ["#4F81BD", "#9BBB59"]},
    "legend": {"orient": "none", "legendX": 115, "legendY": 37, "title": null, "symbolType": "stroke", "symbolStrokeWidth": 3.5, "symbolSize": 49, "clipHeight": 12, "rowPadding": 2, "labelOffset": 2, "labelFont": "Lato", "labelFontSize": 11.5, "labelColor": "#222",
     "encode": {"labels": {"update": {"fontStyle": {"signal": "datum.value == 'Col-0' ? 'normal' : 'italic'"}}}}}}}},
  {"data": {"name": "lines"}, "transform": [{"filter": "datum.r == 'B' && datum.g == 'PRR5'"}], "mark": {"type": "errorbar", "ticks": {"size": 5}, "color": "black", "thickness": 1}, "encoding": {
   "x": {"field": "t", "type": "quantitative", "title": null, "scale": {"domain": [-6, 18], "nice": false, "zero": false}, "axis": {"values": [-4,0,4,8,12,16], "domain": false, "tickSize": 5, "labelPadding": 0}},
   "y": {"field": "v", "type": "quantitative", "title": null, "scale": {"domain": [-0.486, 9.78], "nice": false, "zero": false}, "axis": {"values": [0,1,2,3,4,5,6,7,8,9], "labelExpr": "datum.value > 0 && datum.value % 2 == 0 ? datum.label : ''", "format": "~g"}},
   "yError": {"field": "e"}}},
  {"data": {"name": "stars"}, "transform": [{"filter": "datum.r == 'B' && datum.g == 'PRR5'"}], "mark": {"type": "text", "text": "*", "fontSize": 12, "color": "#444", "baseline": "middle"}, "encoding": {
   "x": {"field": "t", "type": "quantitative", "title": null, "scale": {"domain": [-6, 18], "nice": false, "zero": false}, "axis": {"values": [-4,0,4,8,12,16], "domain": false, "tickSize": 5, "labelPadding": 0}},
   "y": {"field": "v", "type": "quantitative", "title": null, "scale": {"domain": [-0.486, 9.78], "nice": false, "zero": false}, "axis": {"values": [0,1,2,3,4,5,6,7,8,9], "labelExpr": "datum.value > 0 && datum.value % 2 == 0 ? datum.label : ''", "format": "~g"}}}},
  {"data": {"values": [{}]}, "mark": {"type": "text", "text": "PRR5", "font": "Lato", "fontSize": 12, "fontStyle": "italic", "color": "#111", "align": "left", "baseline": "alphabetic", "dx": -5, "dy": -5}, "encoding": {
   "x": {"datum": -6, "type": "quantitative", "title": null, "scale": {"domain": [-6, 18], "nice": false, "zero": false}, "axis": {"values": [-4,0,4,8,12,16], "domain": false, "tickSize": 5, "labelPadding": 0}},
   "y": {"datum": 9.78, "type": "quantitative", "title": null, "scale": {"domain": [-0.486, 9.78], "nice": false, "zero": false}, "axis": {"values": [0,1,2,3,4,5,6,7,8,9], "labelExpr": "datum.value > 0 && datum.value % 2 == 0 ? datum.label : ''", "format": "~g"}}}}
 ]}
]
},
{
"columns": 2, "spacing": 0, "bounds": "flush", "align": "each",
"resolve": {"scale": {"stroke": "independent", "color": "independent", "fill": "independent"}, "legend": {"stroke": "independent", "color": "independent", "fill": "independent"}},
"concat": [
 {"width": 59.3, "height": 37, "data": {"values": [{}]},
  "mark": {"type": "text", "text": "B", "font": "Liberation Sans", "fontWeight": "bold", "fontSize": 12, "color": "black", "align": "center", "baseline": "middle"},
  "encoding": {"x": {"datum": -28.5, "scale": {"domain": [0, 59.3], "nice": false, "zero": false}, "axis": null}, "y": {"datum": 33, "scale": {"domain": [0, 37], "nice": false, "zero": false}, "axis": null}}},
 {"width": 306, "height": 37,
  "layer": [
   {"data": {"name": "td"}, "mark": {"type": "rule", "color": "#555", "strokeWidth": 1},
    "encoding": {"x": {"field": "xl", "type": "quantitative", "scale": {"domain": [0, 21], "nice": false, "zero": false}, "axis": null},
     "y": {"field": "hl", "type": "quantitative", "scale": {"domain": [0, 37], "nice": false}, "axis": null}, "y2": {"field": "h"}}},
   {"data": {"name": "td"}, "mark": {"type": "rule", "color": "#555", "strokeWidth": 1},
    "encoding": {"x": {"field": "xr", "type": "quantitative"}, "y": {"field": "hr", "type": "quantitative"}, "y2": {"field": "h"}}},
   {"data": {"name": "td"}, "mark": {"type": "rule", "color": "#555", "strokeWidth": 1},
    "encoding": {"x": {"field": "xl", "type": "quantitative"}, "x2": {"field": "xr"}, "y": {"field": "h", "type": "quantitative"}}}
  ]},
 {"width": 59.3, "height": 117.6,
  "layer": [
   {"data": {"name": "ld"}, "mark": {"type": "rule", "color": "#555", "strokeWidth": 1},
    "encoding": {"x": {"field": "da", "type": "quantitative", "scale": {"domain": [59.3, 0], "nice": false, "zero": false}, "axis": null},
     "x2": {"field": "d"}, "y": {"field": "a", "type": "quantitative", "scale": {"domain": [8, 0], "nice": false, "zero": false}, "axis": null}}},
   {"data": {"name": "ld"}, "mark": {"type": "rule", "color": "#555", "strokeWidth": 1},
    "encoding": {"x": {"field": "db", "type": "quantitative"}, "x2": {"field": "d"}, "y": {"field": "b", "type": "quantitative"}}},
   {"data": {"name": "ld"}, "mark": {"type": "rule", "color": "#555", "strokeWidth": 1},
    "encoding": {"x": {"field": "d", "type": "quantitative"}, "y": {"field": "a", "type": "quantitative"}, "y2": {"field": "b"}}}
  ]},
 {"width": 306, "height": 117.6,
  "layer": [
   {"data": {"name": "hm"}, "mark": {"type": "rect"},
    "encoding": {
     "x": {"field": "s", "type": "nominal", "sort": ["tcp14","tcp13/14","cca1 early","cca1 late","cry","hy5","cry HL","hy5 HL","pif1-2","phyB9 0h","phyB9 4h","phyB9 8h","phyB9 12h","phyB9 16h","phyB9 20h","lhy1 0h","lhy1 4h","lhy1 8h","lhy1 12h","lhy1 16h","lhy1 20h"],
      "axis": {"orient": "bottom", "labelAngle": -90, "ticks": false, "domain": false, "labelPadding": 3, "labelFont": "Liberation Sans", "labelFontSize": 12.5, "labelColor": "black", "title": null,
       "labelFontStyle": {"condition": {"test": "indexof(datum.value, ' ') < 0", "value": "italic"}, "value": "normal"}}},
     "y": {"field": "g", "type": "nominal", "sort": ["AT1G07180 -","AT3G08950 -","AT1G27390 -","AT3G27080 -","AT5G40930 -","AT5G47030 -","AT5G13440 -","AT2G30160 -"],
      "axis": {"orient": "right", "ticks": false, "domain": false, "labelPadding": 5, "labelFont": "Liberation Sans", "labelFontSize": 11.5, "labelColor": "black", "title": null}},
     "color": {"field": "v", "type": "quantitative",
      "scale": {"type": "linear", "domain": [-3, -2, -1.2, 0, 0.001, 1.2, 1.8, 3], "range": ["#5a60b2", "#3c42a0", "#2b2d86", "#1a1a4a", "#400a0e", "#a01c1c", "#b3181b", "#e0101a"], "clamp": true, "zero": false},
      "legend": {"orient": "none", "legendX": 3.7, "legendY": 191, "direction": "horizontal", "gradientLength": 288, "gradientThickness": 17, "gradientStrokeColor": "black", "gradientStrokeWidth": 1,
       "values": [-3, 0, 3], "labelOffset": -14, "labelColor": "#e0e0e0", "labelFont": "Lato", "labelFontSize": 11,
       "title": "Fold change - mutant vs wild type", "titleLimit": 400, "titleOrient": "bottom", "titleAnchor": "middle", "titleFont": "Lato", "titleFontSize": 13, "titleFontWeight": "normal", "titleColor": "black", "titlePadding": 5}}
    }},
   {"data": {"name": "genes"}, "mark": {"type": "text", "align": "left", "baseline": "middle", "dx": 84.7, "font": "Liberation Sans", "fontSize": 11.5, "fontStyle": "italic", "color": "black"},
    "encoding": {"x": {"datum": "lhy1 20h", "type": "nominal"}, "y": {"field": "g", "type": "nominal", "sort": ["AT1G07180 -","AT3G08950 -","AT1G27390 -","AT3G27080 -","AT5G40930 -","AT5G47030 -","AT5G13440 -","AT2G30160 -"]}, "text": {"field": "gn"}}}
  ]}
]
}
],
"config": {
 "view": {"stroke": null},
 "axis": {"labelFont": "Lato", "titleFont": "Lato", "labelFontSize": 11, "titleFontSize": 12, "titleFontWeight": "normal", "labelColor": "#222", "titleColor": "#222", "domainColor": "#8a8a8a", "tickColor": "#8a8a8a", "tickSize": 4, "grid": false, "labelPadding": 5, "titlePadding": 2}
}
}
